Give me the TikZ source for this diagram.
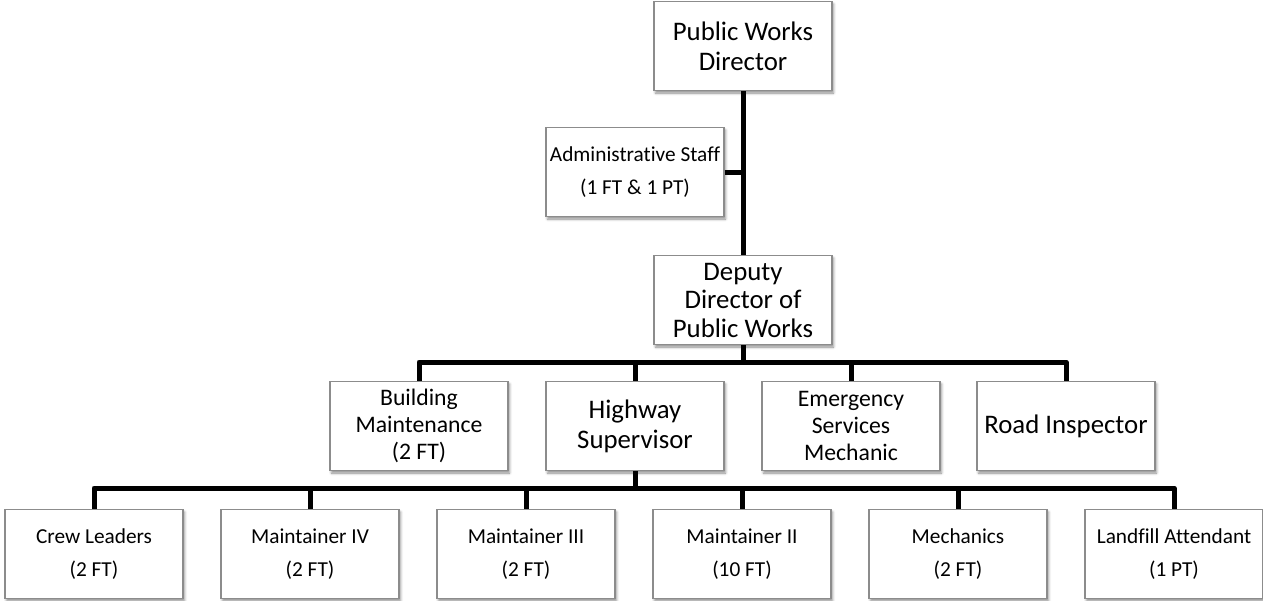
\documentclass[tikz,border=0pt]{standalone}
\usepackage{fontspec}
\setmainfont{Carlito}[Ligatures=NoCommon]
\usepackage{tikz}
\usetikzlibrary{calc,shadows,shadows.blur}

\begin{document}
\begin{tikzpicture}[x=1pt,y=-1pt]
%===STYLES====
\tikzset{post/.style ={draw=black!45, line width=1.4pt, fill=white, align=center, inner sep=0pt,
  minimum width=178pt, minimum height=89pt,
  blur shadow={shadow xshift=1.5pt, shadow yshift=-2.5pt, shadow blur radius=2.5pt, shadow opacity=45}},
  big/.style ={post, font=\fontsize{26.8}{30}\selectfont},
  mid/.style ={post, font=\fontsize{23.7}{27}\selectfont},
  small/.style ={post, font=\fontsize{21.3}{32.5}\selectfont},
  link/.style ={line width=5pt, line join=round}}
\useasboundingbox (0,0) rectangle (1263,600);
%===bus lines===
\coordinate (bus1) at (0,362);
\coordinate (bus2) at (0,488);
%===top===
\node[big] (dir) at (743,46) {Public Works\\Director};
\node[small] (admin) at (635,172) {Administrative Staff\\(1 FT \& 1 PT)};
\node[big, font=\fontsize{26.8}{28.5}\selectfont] (dep) at (743,300) {Deputy\\Director of\\Public Works};
%===middle===
\node[mid] (bld) at (419,426) {Building\\Maintenance\\(2 FT)};
\node[big] (hwy) at (635,426) {Highway\\Supervisor};
\node[mid] (ems) at (851,426) {Emergency\\Services\\Mechanic};
\node[big] (road) at (1066,426) {Road Inspector};
%===bottom===
\node[small] (crew) at (94,554) {Crew Leaders\\(2 FT)};
\node[small] (m4) at (310,554) {Maintainer IV\\(2 FT)};
\node[small] (m3) at (526,554) {Maintainer III\\(2 FT)};
\node[small] (m2) at (742,554) {Maintainer II\\(10 FT)};
\node[small] (mech) at (958,554) {Mechanics\\(2 FT)};
\node[small] (land) at (1174,554) {Landfill Attendant\\(1 PT)};
%===links===
\draw[link] (dir.south) -- (dep.north);
\draw[link] (admin.east) -- (admin.east -| dir.south);
\draw[link] (dep.south) -- (dep.south |- bus1);
\draw[link] (bld.north) -- (bld.north |- bus1) -- (road.north |- bus1) -- (road.north);
\draw[link] (hwy.north) -- (hwy.north |- bus1); \draw[link] (ems.north) -- (ems.north |- bus1);
\draw[link] (hwy.south) -- (hwy.south |- bus2);
\draw[link] (crew.north) -- (crew.north |- bus2) -- (land.north |- bus2) -- (land.north);
\draw[link] (m4.north) -- (m4.north |- bus2); \draw[link] (m3.north) -- (m3.north |- bus2);
\draw[link] (m2.north) -- (m2.north |- bus2); \draw[link] (mech.north) -- (mech.north |- bus2);
\end{tikzpicture}
\end{document}
